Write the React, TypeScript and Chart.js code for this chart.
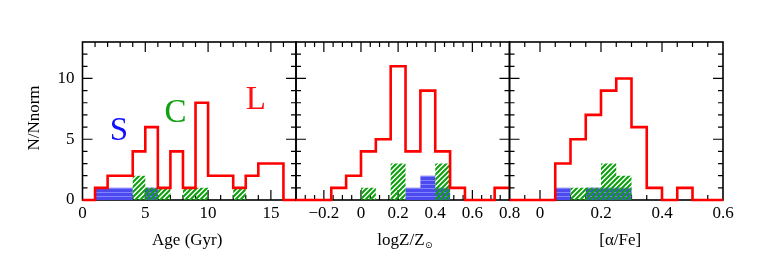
import React, { useEffect, useRef } from "react";
import { Chart, registerables } from "chart.js";
Chart.register(...registerables);

const W = 763;
const H = 263;
const TOP = 42;
const BOTTOM = 200;
const Y_MAX = 13;

const yMajor = [0, 5, 10];
const yTickLabels = ["0", "5", "10"];

// Panel 1: Age (Gyr)
const ageEdges = [0, 1, 2, 3, 4, 5, 6, 7, 8, 9, 10, 11, 12, 13, 14, 15, 16, 17];
const ageL = [0, 1, 2, 2, 4, 6, 1, 4, 1, 8, 2, 2, 1, 2, 3, 3, 0];
const ageC = [0, 0, 0, 0, 2, 1, 1, 0, 1, 1, 0, 0, 1, 0, 0, 0, 0];
const ageS = [0, 1, 1, 1, 0, 1, 0, 0, 0, 0, 0, 0, 0, 0, 0, 0, 0];
const ageTicks = [0, 5, 10, 15];
const ageTickLabels = ["0", "5", "10", "15"];

// Panel 2: logZ/Zsun
const zEdges = [-0.35, -0.16, -0.08, 0, 0.08, 0.16, 0.24, 0.32, 0.4, 0.48, 0.56, 0.64, 0.72, 0.8];
const zL = [0, 1, 2, 4, 5, 11, 4, 9, 4, 1, 0, 0, 1];
const zC = [0, 0, 0, 1, 0, 3, 0, 0, 3, 0, 0, 0, 0];
const zS = [0, 0, 0, 0, 0, 0, 1, 2, 1, 0, 0, 0, 0];
const zTicks = [-0.2, 0, 0.2, 0.4, 0.6, 0.8];
const zTickLabels = ["\u22120.2", "0", "0.2", "0.4", "0.6", "0.8"];

// Panel 3: [alpha/Fe]
const aEdges = [-0.1, 0.05, 0.1, 0.15, 0.2, 0.25, 0.3, 0.35, 0.4, 0.45, 0.5, 0.6];
const aL = [0, 3, 5, 7, 9, 10, 6, 1, 0, 1, 0];
const aC = [0, 0, 1, 1, 3, 2, 0, 0, 0, 0, 0];
const aS = [0, 1, 0, 1, 1, 1, 0, 0, 0, 0, 0];
const aTicks = [0, 0.2, 0.4, 0.6];
const aTickLabels = ["0", "0.2", "0.4", "0.6"];

// Group labels in panel 1 (data coordinates of text baseline centre)
const groupLabels = [
  { text: "S", x: 2.9, y: 4.95, color: "#1010ff" },
  { text: "C", x: 7.4, y: 6.4, color: "#10a010" },
  { text: "L", x: 13.8, y: 7.45, color: "#ff1010" },
];

const FONT = "'Liberation Serif', 'Times New Roman', serif";
const FS = 17;

type Panel = {
  left: number;
  right: number;
  min: number;
  max: number;
  minorStep: number;
  edges: number[];
  L: number[];
  C: number[];
  S: number[];
  ticks: number[];
  tickLabels: string[];
  title: string;
};

const PANELS: Panel[] = [
  { left: 82.5, right: 296, min: 0, max: 17, minorStep: 1, edges: ageEdges, L: ageL, C: ageC, S: ageS, ticks: ageTicks, tickLabels: ageTickLabels, title: "age" },
  { left: 296, right: 509.5, min: -0.35, max: 0.8, minorStep: 0.05, edges: zEdges, L: zL, C: zC, S: zS, ticks: zTicks, tickLabels: zTickLabels, title: "z" },
  { left: 509.5, right: 723, min: -0.1, max: 0.6, minorStep: 0.05, edges: aEdges, L: aL, C: aC, S: aS, ticks: aTicks, tickLabels: aTickLabels, title: "a" },
];

function stepPoints(edges: number[], vals: number[]) {
  const pts = vals.map((v, i) => ({ x: edges[i], y: v }));
  pts.push({ x: edges[edges.length - 1], y: vals[vals.length - 1] });
  return pts;
}

function makeGreenPattern(ctx: CanvasRenderingContext2D) {
  const s = 5;
  const c = document.createElement("canvas");
  c.width = s;
  c.height = s;
  const g = c.getContext("2d")!;
  g.strokeStyle = "rgb(15,160,15)";
  g.lineWidth = 2.1;
  g.beginPath();
  g.moveTo(-1, s + 1);
  g.lineTo(s + 1, -1);
  g.moveTo(-1, 1);
  g.lineTo(1, -1);
  g.moveTo(s - 1, s + 1);
  g.lineTo(s + 1, s - 1);
  g.stroke();
  return ctx.createPattern(c, "repeat")!;
}

function makeBluePattern(ctx: CanvasRenderingContext2D) {
  const c = document.createElement("canvas");
  c.width = 4;
  c.height = 4;
  const g = c.getContext("2d")!;
  g.fillStyle = "rgb(75,75,240)";
  g.fillRect(0, 0, 4, 4);
  g.fillStyle = "rgb(130,130,255)";
  g.fillRect(0, 0, 4, 1);
  return ctx.createPattern(c, "repeat")!;
}

function makePlugin(p: Panel, idx: number) {
  return {
    id: "frame" + idx,
    beforeDatasetsDraw(chart: any) {
      const ctx: CanvasRenderingContext2D = chart.ctx;
      const { left, right, top, bottom } = chart.chartArea;
      const xs = chart.scales.x;
      const ys = chart.scales.y;
      ctx.save();
      ctx.strokeStyle = "#000";
      ctx.lineWidth = 1.2;
      ctx.beginPath();
      const eps = 1e-6;
      const nMin = Math.ceil((p.min - eps) / p.minorStep);
      const nMax = Math.floor((p.max + eps) / p.minorStep);
      for (let n = nMin; n <= nMax; n++) {
        const v = n * p.minorStep;
        if (Math.abs(v - p.min) < eps || Math.abs(v - p.max) < eps) continue;
        const isMajor = p.ticks.some((t) => Math.abs(t - v) < eps);
        const len = isMajor ? 10 : 5;
        const px = xs.getPixelForValue(v);
        ctx.moveTo(px, bottom);
        ctx.lineTo(px, bottom - len);
        ctx.moveTo(px, top);
        ctx.lineTo(px, top + len);
      }
      for (let v = 1; v < Y_MAX; v++) {
        const isMajor = yMajor.includes(v);
        const len = isMajor ? 10 : 5;
        const py = ys.getPixelForValue(v);
        ctx.moveTo(left, py);
        ctx.lineTo(left + len, py);
        ctx.moveTo(right, py);
        ctx.lineTo(right - len, py);
      }
      ctx.stroke();
      ctx.lineWidth = 1.6;
      ctx.strokeRect(left, top, right - left, bottom - top);
      ctx.restore();
    },
    afterDraw(chart: any) {
      const ctx: CanvasRenderingContext2D = chart.ctx;
      const { left, right, top, bottom } = chart.chartArea;
      const xs = chart.scales.x;
      const ys = chart.scales.y;
      ctx.save();
      ctx.fillStyle = "#000";
      ctx.font = `${FS}px ${FONT}`;
      ctx.textAlign = "center";
      ctx.textBaseline = "middle";
      p.ticks.forEach((t, i) => {
        ctx.fillText(p.tickLabels[i], xs.getPixelForValue(t), bottom + 14);
      });
      const cx = (left + right) / 2;
      const ty = bottom + 41;
      if (p.title === "age") {
        ctx.fillText("Age (Gyr)", cx - 2, ty);
      } else if (p.title === "a") {
        ctx.fillText("[\u03b1/Fe]", cx + 4, ty);
      } else {
        const main = "logZ/Z";
        ctx.font = `${FS}px ${FONT}`;
        const w1 = ctx.measureText(main).width;
        ctx.font = `9px 'DejaVu Sans', sans-serif`;
        const w2 = ctx.measureText("\u2299").width;
        const x0 = cx + 2 - (w1 + w2) / 2;
        ctx.textAlign = "left";
        ctx.font = `${FS}px ${FONT}`;
        ctx.fillText(main, x0, ty);
        ctx.font = `9px 'DejaVu Sans', sans-serif`;
        ctx.fillText("\u2299", x0 + w1 + 0.5, ty + 5);
        ctx.textAlign = "center";
      }
      if (idx === 0) {
        ctx.font = `${FS}px ${FONT}`;
        ctx.textAlign = "right";
        yMajor.forEach((v, i) => {
          ctx.fillText(yTickLabels[i], left - 8, ys.getPixelForValue(v));
        });
        ctx.save();
        ctx.translate(35, (top + bottom) / 2 - 3);
        ctx.rotate(-Math.PI / 2);
        ctx.textAlign = "center";
        ctx.fillText("N/Nnorm", 0, 0);
        ctx.restore();
        ctx.font = `33px ${FONT}`;
        ctx.textAlign = "center";
        ctx.textBaseline = "alphabetic";
        groupLabels.forEach((g) => {
          ctx.fillStyle = g.color;
          ctx.fillText(g.text, xs.getPixelForValue(g.x), ys.getPixelForValue(g.y));
        });
      }
      ctx.restore();
    },
  };
}

function makeConfig(p: Panel, idx: number, ctx: CanvasRenderingContext2D): any {
  return {
    type: "line",
    data: {
      datasets: [
        {
          data: stepPoints(p.edges, p.L),
          stepped: true,
          borderColor: "#ff0000",
          borderWidth: 2.6,
          borderJoinStyle: "miter",
          fill: false,
          clip: false,
          pointRadius: 0,
        },
        {
          data: stepPoints(p.edges, p.C),
          stepped: true,
          borderColor: "rgba(0,0,0,0)",
          borderWidth: 0,
          backgroundColor: makeGreenPattern(ctx),
          fill: "origin",
          pointRadius: 0,
        },
        {
          data: stepPoints(p.edges, p.S),
          stepped: true,
          borderColor: "rgba(0,0,0,0)",
          borderWidth: 0,
          backgroundColor: makeBluePattern(ctx),
          fill: "origin",
          pointRadius: 0,
        },
      ],
    },
    options: {
      animation: false,
      responsive: false,
      devicePixelRatio: 1,
      events: [],
      layout: {
        padding: { left: p.left, right: W - p.right, top: TOP, bottom: H - BOTTOM },
      },
      plugins: { legend: { display: false }, tooltip: { enabled: false } },
      scales: {
        x: { type: "linear", min: p.min, max: p.max, display: false },
        y: { type: "linear", min: 0, max: Y_MAX, display: false },
      },
    },
    plugins: [makePlugin(p, idx)],
  };
}

export default function App() {
  const r0 = useRef<HTMLCanvasElement>(null);
  const r1 = useRef<HTMLCanvasElement>(null);
  const r2 = useRef<HTMLCanvasElement>(null);
  const refs = [r0, r1, r2];
  useEffect(() => {
    const charts = PANELS.map((p, i) => {
      const cv = refs[i].current!;
      const ctx = cv.getContext("2d")!;
      return new Chart(cv, makeConfig(p, i, ctx));
    });
    return () => charts.forEach((c) => c.destroy());
  }, []);
  return (
    <div style={{ position: "absolute", left: 0, top: 0, width: W, height: H, background: "#fff" }}>
      {PANELS.map((p, i) => (
        <canvas
          key={i}
          ref={refs[i]}
          width={W}
          height={H}
          style={{ position: "absolute", left: 0, top: 0, width: W, height: H }}
        />
      ))}
    </div>
  );
}
